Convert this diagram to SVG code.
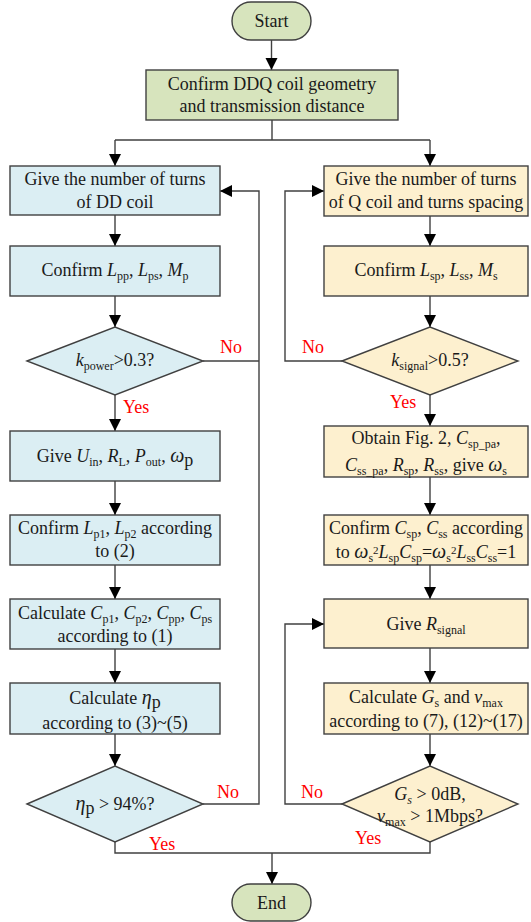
<svg xmlns="http://www.w3.org/2000/svg" width="531" height="922" viewBox="0 0 531 922">
<style>
.t{font-family:"Liberation Serif","Times New Roman",serif;font-size:18px;fill:#1a1a1a;text-anchor:middle}
.i{font-style:italic}
.s{font-size:12px}
.sp{font-size:11px}
.lbl{font-family:"Liberation Serif","Times New Roman",serif;font-size:18px;fill:#ff0000}
.g{fill:#d7e4bd;stroke:#404040;stroke-width:1.4}
.b{fill:#dbeef3;stroke:#404040;stroke-width:1.4}
.y{fill:#fdf0cf;stroke:#404040;stroke-width:1.4}
.c{fill:none;stroke:#404040;stroke-width:1.4}
</style>
<defs>
<marker id="ah" markerUnits="userSpaceOnUse" markerWidth="12" markerHeight="14" refX="12" refY="6" orient="auto">
<path d="M0,0 L12,6 L0,12 Z" fill="#000"/>
</marker>
</defs>
<rect width="531" height="922" fill="#fff"/>
<g id="connectors">
<path class="c" d="M271.5,40 V70" marker-end="url(#ah)"/>
<path class="c" d="M272,120 V140 M115,140 H430"/>
<path class="c" d="M115,140 V166" marker-end="url(#ah)"/>
<path class="c" d="M430,140 V166" marker-end="url(#ah)"/>
<path class="c" d="M115,215 V246" marker-end="url(#ah)"/>
<path class="c" d="M115,296 V327" marker-end="url(#ah)"/>
<path class="c" d="M115,395 V431" marker-end="url(#ah)"/>
<path class="c" d="M115,481 V515" marker-end="url(#ah)"/>
<path class="c" d="M115,565 V599" marker-end="url(#ah)"/>
<path class="c" d="M115,649 V683" marker-end="url(#ah)"/>
<path class="c" d="M115,734 V766" marker-end="url(#ah)"/>
<path class="c" d="M203,361 H259"/>
<path class="c" d="M203,804 H259 V191 H220" marker-end="url(#ah)"/>
<path class="c" d="M430,216 V246" marker-end="url(#ah)"/>
<path class="c" d="M430,296 V327" marker-end="url(#ah)"/>
<path class="c" d="M342,361 H285 V191 H324" marker-end="url(#ah)"/>
<path class="c" d="M430,395 V426" marker-end="url(#ah)"/>
<path class="c" d="M430,477 V515" marker-end="url(#ah)"/>
<path class="c" d="M430,565 V599" marker-end="url(#ah)"/>
<path class="c" d="M430,648 V683" marker-end="url(#ah)"/>
<path class="c" d="M430,734 V766" marker-end="url(#ah)"/>
<path class="c" d="M342,804 H285 V624 H324" marker-end="url(#ah)"/>
<path class="c" d="M115,842 V853 H430 V842"/>
<path class="c" d="M272,853 V884" marker-end="url(#ah)"/>
<text class="lbl" x="220" y="353">No</text>
<text class="lbl" x="123" y="413">Yes</text>
<text class="lbl" x="217" y="798">No</text>
<text class="lbl" x="149" y="850">Yes</text>
<text class="lbl" x="302" y="353">No</text>
<text class="lbl" x="390" y="408">Yes</text>
<text class="lbl" x="301" y="798">No</text>
<text class="lbl" x="355" y="844">Yes</text>
</g>
<g id="start">
<rect class="g" x="232" y="2" width="79" height="38" rx="19"/>
<text class="t" x="271.5" y="27">Start</text>
</g>
<g id="geometry">
<rect class="g" x="146" y="70" width="252" height="50"/>
<text class="t" x="272" y="90">Confirm DDQ coil geometry</text>
<text class="t" x="272" y="112">and transmission distance</text>
</g>
<g id="dd-turns">
<rect class="b" x="10" y="166" width="210" height="49"/>
<text class="t" x="115" y="185">Give the number of turns</text>
<text class="t" x="115" y="208">of DD coil</text>
</g>
<g id="confirm-lpp">
<rect class="b" x="10" y="246" width="210" height="50"/>
<text class="t" x="115" y="276">Confirm <tspan class="i">L</tspan><tspan class="s" dy="4">pp</tspan><tspan dy="-4">, </tspan><tspan class="i">L</tspan><tspan class="s" dy="4">ps</tspan><tspan dy="-4">, </tspan><tspan class="i">M</tspan><tspan class="s" dy="4">p</tspan></text>
</g>
<g id="kpower">
<polygon class="b" points="27,361 115,327 203,361 115,395"/>
<text class="t" x="115" y="366"><tspan class="i">k</tspan><tspan class="s" dy="4">power</tspan><tspan dy="-4">&gt;0.3?</tspan></text>
</g>
<g id="give-uin">
<rect class="b" x="10" y="431" width="210" height="50"/>
<text class="t" x="115" y="462">Give <tspan class="i">U</tspan><tspan class="s" dy="4">in</tspan><tspan dy="-4">, </tspan><tspan class="i">R</tspan><tspan class="s" dy="4">L</tspan><tspan dy="-4">, </tspan><tspan class="i">P</tspan><tspan class="s" dy="4">out</tspan><tspan dy="-4">, </tspan><tspan class="i" font-size="20">ω</tspan><tspan dy="4">p</tspan></text>
</g>
<g id="confirm-lp1">
<rect class="b" x="10" y="515" width="210" height="50"/>
<text class="t" x="115" y="534">Confirm <tspan class="i">L</tspan><tspan class="s" dy="4">p1</tspan><tspan dy="-4">, </tspan><tspan class="i">L</tspan><tspan class="s" dy="4">p2</tspan><tspan dy="-4"> according</tspan></text>
<text class="t" x="115" y="557">to (2)</text>
</g>
<g id="calc-cp">
<rect class="b" x="10" y="599" width="210" height="50"/>
<text class="t" x="115" y="619">Calculate <tspan class="i">C</tspan><tspan class="s" dy="4">p1</tspan><tspan dy="-4">, </tspan><tspan class="i">C</tspan><tspan class="s" dy="4">p2</tspan><tspan dy="-4">, </tspan><tspan class="i">C</tspan><tspan class="s" dy="4">pp</tspan><tspan dy="-4">, </tspan><tspan class="i">C</tspan><tspan class="s" dy="4">ps</tspan></text>
<text class="t" x="115" y="642">according to (1)</text>
</g>
<g id="calc-eta">
<rect class="b" x="10" y="683" width="210" height="51"/>
<text class="t" x="115" y="704">Calculate <tspan class="i" font-size="20">η</tspan><tspan dy="4">p</tspan></text>
<text class="t" x="115" y="729">according to (3)~(5)</text>
</g>
<g id="eta-check">
<polygon class="b" points="27,804 115,766 203,804 115,842"/>
<text class="t" x="115" y="810"><tspan class="i" font-size="20">η</tspan><tspan dy="4">p</tspan><tspan dy="-4"> &gt; 94%?</tspan></text>
</g>
<g id="q-turns">
<rect class="y" x="324" y="166" width="204" height="50"/>
<text class="t" x="426" y="185">Give the number of turns</text>
<text class="t" x="426" y="208">of Q coil and turns spacing</text>
</g>
<g id="confirm-lsp">
<rect class="y" x="324" y="246" width="204" height="50"/>
<text class="t" x="426" y="276">Confirm <tspan class="i">L</tspan><tspan class="s" dy="4">sp</tspan><tspan dy="-4">, </tspan><tspan class="i">L</tspan><tspan class="s" dy="4">ss</tspan><tspan dy="-4">, </tspan><tspan class="i">M</tspan><tspan class="s" dy="4">s</tspan></text>
</g>
<g id="ksignal">
<polygon class="y" points="342,361 430,327 518,361 430,395"/>
<text class="t" x="430" y="366"><tspan class="i">k</tspan><tspan class="s" dy="4">signal</tspan><tspan dy="-4">&gt;0.5?</tspan></text>
</g>
<g id="obtain">
<rect class="y" x="324" y="426" width="204" height="51"/>
<text class="t" x="426" y="444">Obtain Fig. 2, <tspan class="i">C</tspan><tspan class="s" dy="4">sp_pa</tspan><tspan dy="-4">,</tspan></text>
<text class="t" x="426" y="471"><tspan class="i">C</tspan><tspan class="s" dy="4">ss_pa</tspan><tspan dy="-4">, </tspan><tspan class="i">R</tspan><tspan class="s" dy="4">sp</tspan><tspan dy="-4">, </tspan><tspan class="i">R</tspan><tspan class="s" dy="4">ss</tspan><tspan dy="-4">, give </tspan><tspan class="i" font-size="20">ω</tspan><tspan class="s" dy="4">s</tspan></text>
</g>
<g id="confirm-csp">
<rect class="y" x="324" y="515" width="204" height="50"/>
<text class="t" x="426" y="534">Confirm <tspan class="i">C</tspan><tspan class="s" dy="4">sp</tspan><tspan dy="-4">, </tspan><tspan class="i">C</tspan><tspan class="s" dy="4">ss</tspan><tspan dy="-4"> according</tspan></text>
<text class="t" x="426" y="558">to <tspan class="i" font-size="20">ω</tspan><tspan class="s" dy="4">s</tspan><tspan class="sp" dy="-8">2</tspan><tspan class="i" dy="4">L</tspan><tspan class="s" dy="4">sp</tspan><tspan class="i" dy="-4">C</tspan><tspan class="s" dy="4">sp</tspan><tspan dy="-4">=</tspan><tspan class="i" font-size="20">ω</tspan><tspan class="s" dy="4">s</tspan><tspan class="sp" dy="-8">2</tspan><tspan class="i" dy="4">L</tspan><tspan class="s" dy="4">ss</tspan><tspan class="i" dy="-4">C</tspan><tspan class="s" dy="4">ss</tspan><tspan dy="-4">=1</tspan></text>
</g>
<g id="give-rsignal">
<rect class="y" x="324" y="599" width="204" height="49"/>
<text class="t" x="426" y="630">Give <tspan class="i">R</tspan><tspan class="s" dy="4">signal</tspan></text>
</g>
<g id="calc-gs">
<rect class="y" x="324" y="683" width="204" height="51"/>
<text class="t" x="426" y="703">Calculate <tspan class="i">G</tspan><tspan class="s" dy="4">s</tspan><tspan dy="-4"> and </tspan><tspan class="i">v</tspan><tspan class="s" dy="4">max</tspan></text>
<text class="t" x="426" y="727">according to (7), (12)~(17)</text>
</g>
<g id="gs-check">
<polygon class="y" points="342,804 430,766 518,804 430,842"/>
<text class="t" x="430" y="800"><tspan class="i">G</tspan><tspan class="s i" dy="4">s</tspan><tspan dy="-4"> &gt; 0dB,</tspan></text>
<text class="t" x="430" y="822"><tspan class="i">v</tspan><tspan class="s" dy="4">max</tspan><tspan dy="-4"> &gt; 1Mbps?</tspan></text>
</g>
<g id="end">
<rect class="g" x="232" y="884" width="79" height="37" rx="18.5"/>
<text class="t" x="271.5" y="909">End</text>
</g>
</svg>
